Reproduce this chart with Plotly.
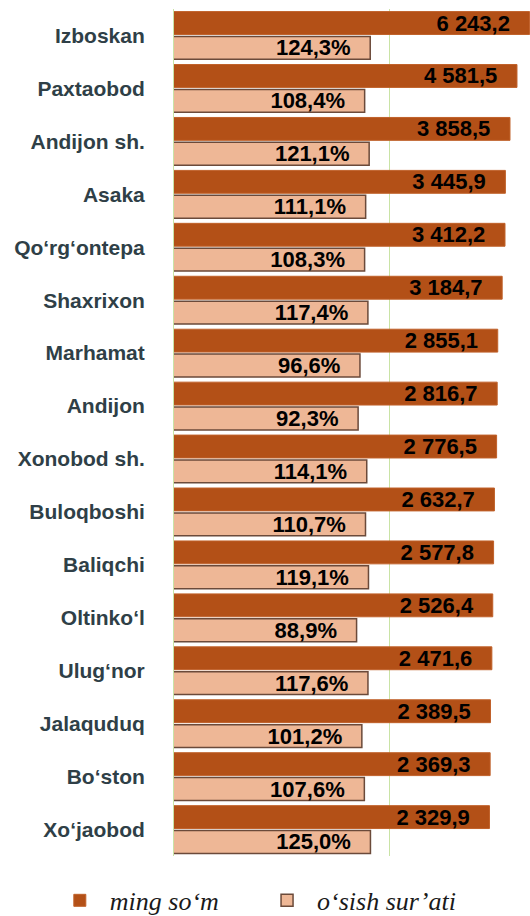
import plotly.graph_objects as go

# district names, top to bottom
districts = [
    "Izboskan", "Paxtaobod", "Andijon sh.", "Asaka", "Qo‘rg‘ontepa",
    "Shaxrixon", "Marhamat", "Andijon", "Xonobod sh.", "Buloqboshi",
    "Baliqchi", "Oltinko‘l", "Ulug‘nor", "Jalaquduq", "Bo‘ston", "Xo‘jaobod",
]
# volume, thousand so'm
volume = [
    6243.2, 4581.5, 3858.5, 3445.9, 3412.2, 3184.7, 2855.1, 2816.7,
    2776.5, 2632.7, 2577.8, 2526.4, 2471.6, 2389.5, 2369.3, 2329.9,
]
# growth rate, %
growth = [
    124.3, 108.4, 121.1, 111.1, 108.3, 117.4, 96.6, 92.3,
    114.1, 110.7, 119.1, 88.9, 117.6, 101.2, 107.6, 125.0,
]
series_names = ["ming so‘m", "o‘sish sur’ati"]
grid_ticks = [200]

DARK = "#b35017"
LIGHT = "#eeb796"
GREEN = "#c9e3a5"
LABEL_FONT = {"family": "Liberation Sans, Arial, sans-serif", "size": 22,
              "color": "black", "weight": "bold"}
PAD = "\u00a0\u00a0\u2009"

fig = go.Figure()
fig.add_trace(
    go.Bar(
        y=districts,
        x=volume,
        orientation="h",
        name=series_names[0],
        legend="legend",
        marker={"color": DARK, "line": {"color": "#c0612a", "width": 1}},
        texttemplate="%{x:,.1f}" + PAD,
        textposition="inside",
        insidetextanchor="end",
        constraintext="none",
        textangle=0,
        textfont=LABEL_FONT,
        hoverinfo="skip",
    )
)
fig.add_trace(
    go.Bar(
        y=districts,
        x=growth,
        orientation="h",
        name=series_names[1],
        legend="legend2",
        marker={"color": LIGHT, "line": {"color": "#6b4a3a", "width": 1.5}},
        texttemplate="%{x:.1f}%" + PAD,
        textposition="inside",
        insidetextanchor="end",
        constraintext="none",
        textangle=0,
        textfont=LABEL_FONT,
        hoverinfo="skip",
    )
)

legend_style = {
    "orientation": "h",
    "xref": "container",
    "yref": "container",
    "xanchor": "left",
    "y": 0.017,
    "yanchor": "middle",
    "font": {"family": "Liberation Serif, Times New Roman, serif", "size": 26,
             "style": "italic", "color": "#1a1a1a"},
    "itemwidth": 50,
}

fig.update_layout(
    width=530,
    height=916,
    barmode="group",
    bargap=0.06,
    bargroupgap=0.08,
    separators=", ",
    paper_bgcolor="white",
    plot_bgcolor="white",
    margin={"l": 174, "r": 0, "t": 9, "b": 60, "autoexpand": False},
    xaxis={
        "type": "log",
        "range": [0, 3.8],
        "tickvals": grid_ticks,
        "showticklabels": False,
        "ticks": "",
        "showgrid": True,
        "gridcolor": GREEN,
        "gridwidth": 1,
        "showline": False,
        "zeroline": False,
        "fixedrange": True,
    },
    yaxis={
        "autorange": "reversed",
        "automargin": False,
        "ticks": "",
        "showline": True,
        "linecolor": GREEN,
        "linewidth": 1,
        "showgrid": False,
        "ticklabelstandoff": 24,
        "tickfont": {"family": "Liberation Sans, Arial, sans-serif", "size": 21,
                     "color": "#2f3f47", "weight": "bold"},
    },
    legend={**legend_style, "x": 0.094},
    legend2={**legend_style, "x": 0.485},
    showlegend=True,
)

# the page body has a default 8px margin; drop it so the figure sits at 0,0
fig.write_html(
    "out.html",
    config={"displayModeBar": False},
    post_script="document.body.style.margin = '0';",
)
